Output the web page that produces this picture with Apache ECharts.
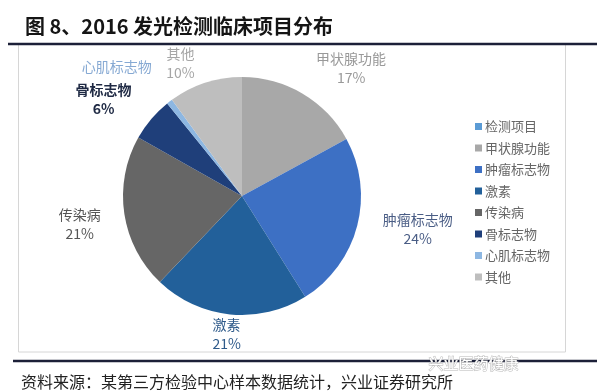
<!DOCTYPE html>
<html><head><meta charset="utf-8">
<script src="https://cdn.jsdelivr.net/npm/echarts@6/dist/echarts.min.js"></script>
<style>html,body{margin:0;padding:0;background:#fff}#c{width:600px;height:391px}</style>
</head><body><div id="c"></div>
<script>
// ---- data ----
var categories = ['检测项目','甲状腺功能','肿瘤标志物','激素','传染病','骨标志物','心肌标志物','其他'];
var shares = [0, 17, 24, 21, 21, 6, 0.8, 10];
var titleText = '图 8、2016 发光检测临床项目分布';
var sourceText = '资料来源：某第三方检验中心样本数据统计，兴业证券研究所';
var watermarkText = '兴业医药健康';

// ---- styles ----
var sliceColors = ['#5B9BD5','#A8A8A8','#3D70C4','#22609A','#666666','#1F3F7A','#8DB7E2','#BEBEBE'];
var labelColors = ['#5B9BD5','#999999','#4A5D85','#2E5A8A','#555555','#1F2A44','#86A9D3','#A6A6A6'];
var labelShift = [[0,0],[26,12],[18,-8],[1,-24],[-1,4],[-14,8],[-26,0],[-11,22]];

var pieData = categories.map(function(n,i){
  return {name:n, value:shares[i], itemStyle:{color:sliceColors[i]}};
});
var labelData = categories.map(function(n,i){
  return {name:n, value:shares[i], itemStyle:{color:'rgba(0,0,0,0)'},
    label:{show: shares[i] > 0, color:labelColors[i], fontWeight: i===5 ? 'bold' : 'normal'}};
});

var chart = echarts.init(document.getElementById('c'));
chart.setOption({
  animation:false,
  title:[
    {text:titleText, left:20, top:11, textStyle:{fontFamily:'Noto Sans CJK SC', fontSize:20, fontWeight:'bold', color:'#151515'}},
    {text:sourceText, left:16, top:369, textStyle:{fontFamily:'Noto Sans CJK SC', fontSize:16, fontWeight:'normal', color:'#222'}}
  ],
  legend:{
    orient:'vertical', left:470, top:115, itemWidth:7, itemHeight:7, itemGap:8.5,
    icon:'rect', data:categories,
    textStyle:{fontFamily:'Noto Sans CJK SC', fontSize:13, color:'#666', padding:[0,0,0,-2]}
  },
  graphic:[
    {type:'rect', shape:{x:18.5, y:44, width:547, height:308}, style:{fill:'none', stroke:'#d6d6d6', lineWidth:1}, z:-1},
    {type:'line', shape:{x1:8, y1:44, x2:597, y2:44}, style:{stroke:'#1c2038', lineWidth:2.5}},
    {type:'line', shape:{x1:13, y1:361, x2:597, y2:361}, style:{stroke:'#1c2038', lineWidth:2.5}},
    {type:'text', left:428, top:355, style:{text:watermarkText, fill:'#ffffff', stroke:'#b8b8b8', lineWidth:1, fontSize:15, fontFamily:'Noto Sans CJK SC'}}
  ],
  series:[
    {
      type:'pie', center:[242,196], radius:[0,119], startAngle:90, clockwise:true,
      silent:true, label:{show:false}, labelLine:{show:false},
      data:pieData
    },
    {
      type:'pie', center:[242,196], radius:[130,190], startAngle:90, clockwise:true,
      silent:true, labelLine:{show:false},
      label:{position:'inside', fontFamily:'Noto Sans CJK SC', fontSize:14, lineHeight:19, align:'center',
        formatter:function(p){ return p.value >= 1 ? p.name + '\n' + Math.round(p.value) + '%' : p.name; }},
      labelLayout:function(p){ var s = labelShift[p.dataIndex]; return {dx:s[0], dy:s[1]}; },
      data:labelData
    }
  ]
});
</script></body></html>
